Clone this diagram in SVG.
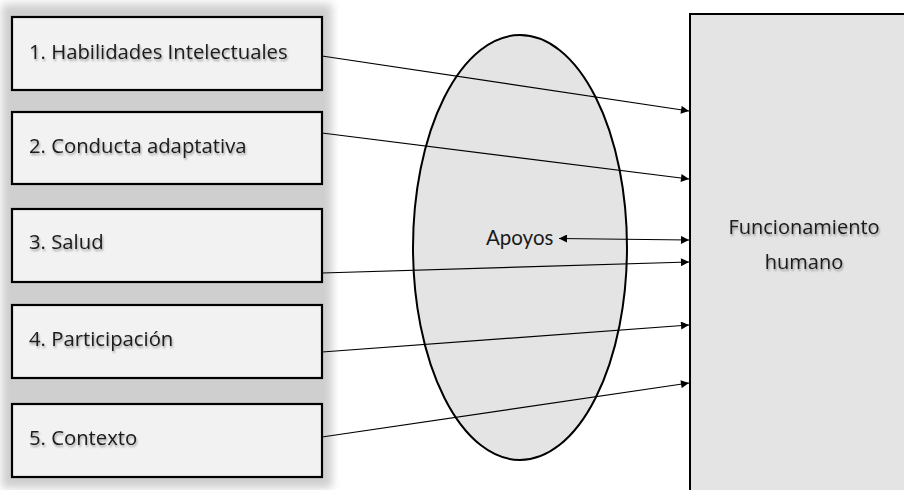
<svg xmlns="http://www.w3.org/2000/svg" width="904" height="490" viewBox="0 0 904 490">
<defs>
<filter id="blur" x="-10%" y="-10%" width="120%" height="120%"><feGaussianBlur stdDeviation="4"/></filter>
<filter id="tshadow" x="-5%" y="-20%" width="110%" height="150%">
<feGaussianBlur in="SourceAlpha" stdDeviation="1.2" result="b"/>
<feOffset in="b" dx="1" dy="1.5" result="o"/>
<feComponentTransfer in="o" result="s"><feFuncA type="linear" slope="0.35"/></feComponentTransfer>
<feMerge><feMergeNode in="s"/><feMergeNode in="SourceGraphic"/></feMerge>
</filter>
<marker id="arr" viewBox="0 0 10 10" refX="10" refY="5" markerWidth="10" markerHeight="8" markerUnits="userSpaceOnUse" orient="auto-start-reverse">
<path d="M0,0 L10,5 L0,10 Z" fill="#000"/>
</marker>
</defs>
<style>
.box{fill:#f2f2f2;stroke:#000;stroke-width:2.2}
.lbl{font-family:"Open Sans","Liberation Sans",sans-serif;font-size:20.3px;fill:#1a1a1a}
.conn{stroke:#000;stroke-width:1.2;fill:none;marker-end:url(#arr)}
</style>
<rect x="2" y="4" width="330" height="484" fill="#cfcfcf" filter="url(#blur)"/>
<g id="n1"><rect class="box" x="12" y="17" width="310" height="73"/><text class="lbl" x="29" y="59" filter="url(#tshadow)">1. Habilidades Intelectuales</text></g>
<g id="n2"><rect class="box" x="12" y="112" width="310" height="72"/><text class="lbl" x="29" y="153" filter="url(#tshadow)">2. Conducta adaptativa</text></g>
<g id="n3"><rect class="box" x="12" y="209" width="310" height="73"/><text class="lbl" x="29" y="249" filter="url(#tshadow)">3. Salud</text></g>
<g id="n4"><rect class="box" x="12" y="305" width="310" height="73"/><text class="lbl" x="29" y="346" filter="url(#tshadow)">4. Participación</text></g>
<g id="n5"><rect class="box" x="12" y="404" width="310" height="73"/><text class="lbl" x="29" y="445" filter="url(#tshadow)">5. Contexto</text></g>
<g id="apoyos"><ellipse cx="520" cy="247.5" rx="107" ry="212.5" fill="#e4e4e4" stroke="#000" stroke-width="2"/><text x="486" y="245" font-family="Lato,'Open Sans',sans-serif" font-size="20.5" fill="#1a1a1a">Apoyos</text></g>
<g id="funcionamiento"><rect x="690" y="14" width="220" height="490" fill="#e4e4e4" stroke="#000" stroke-width="2"/><text x="804" y="234" text-anchor="middle" font-family="'Open Sans','Liberation Sans',sans-serif" font-size="20" fill="#1a1a1a" filter="url(#tshadow)">Funcionamiento</text><text x="804" y="269" text-anchor="middle" font-family="'Open Sans','Liberation Sans',sans-serif" font-size="20" fill="#1a1a1a" filter="url(#tshadow)">humano</text></g>
<g id="connectors">
<line class="conn" x1="322" y1="56" x2="689" y2="111"/>
<line class="conn" x1="322" y1="133" x2="689" y2="179"/>
<line class="conn" x1="559" y1="238.5" x2="689" y2="240" marker-start="url(#arr)"/>
<line class="conn" x1="322" y1="273" x2="689" y2="262"/>
<line class="conn" x1="322" y1="352" x2="689" y2="325"/>
<line class="conn" x1="322" y1="437" x2="689" y2="383"/>
</g>
</svg>
